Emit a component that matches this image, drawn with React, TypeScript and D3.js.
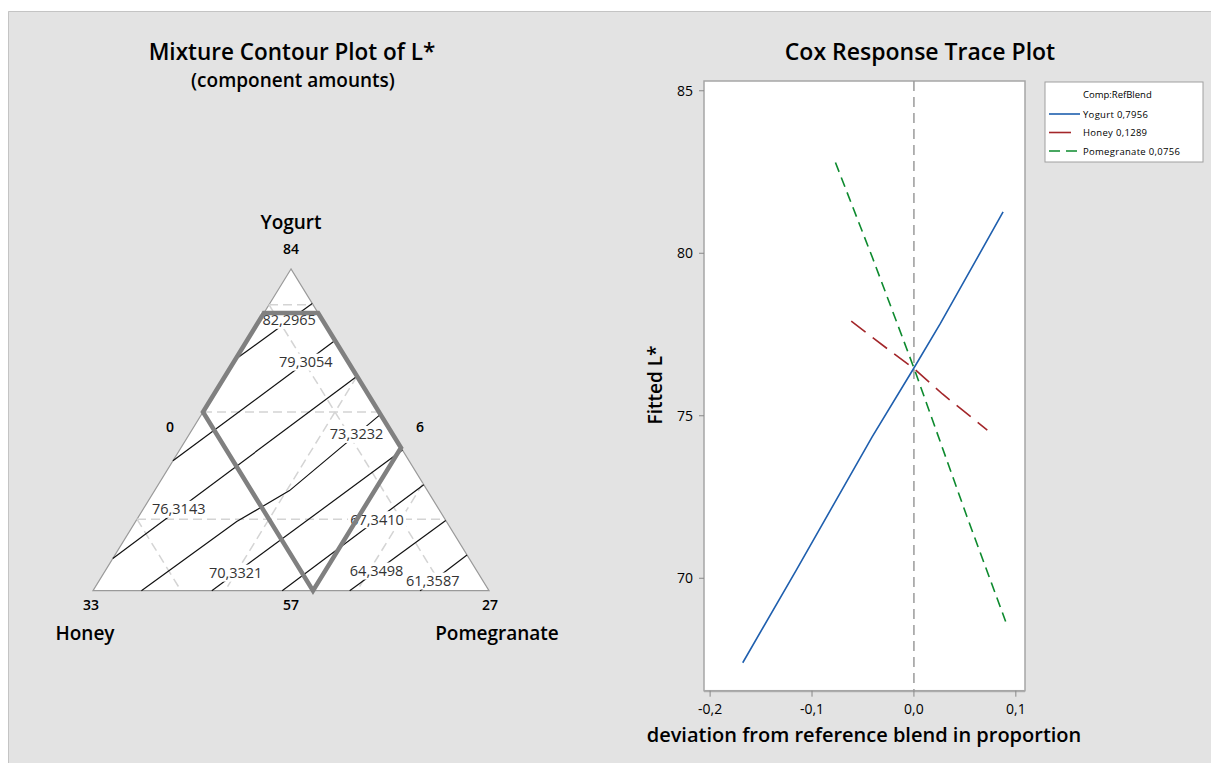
import React from 'react';
import * as d3 from 'd3';

// ---- mixture contour (component amounts) ----
const components = ['Yogurt', 'Honey', 'Pomegranate'];
const total = 90;
const lowerBounds = [57, 6, 0]; // Yogurt, Honey, Pomegranate
const vertexTicks = ['84', '33', '27'];
const boundTicks = ['57', '6', '0'];

const gridYogurt = [63, 72, 81];
const gridHoney = [9, 18, 27];
const gridPom = [9, 18];

// constraint region vertices (amounts)
const regionYogurt = [80.3, 80.3, 69, 57, 72];
const regionPom = [0, 3.7, 15, 15, 0];

const contourLevels = [82.2965, 79.3054, 76.3143, 73.3232, 70.3321, 67.341, 64.3498, 61.3587];
const contourYogurt = [
  [76.4, 81.1],
  [67.9, 78.0],
  [59.7, 75.0],
  [57, 62.8, 65.4, 71.8],
  [57, 68.8],
  [57, 65.9],
  [57, 62.9],
  [57, 60.0],
];
const contourPom = [
  [0, 2.9],
  [0, 6],
  [0, 9],
  [3.3, 6.9, 9.2, 12.2],
  [8.1, 15.2],
  [12.9, 18.1],
  [17.5, 21.1],
  [22.3, 24.0],
];
// where along each contour its label sits (0..1 of horizontal run)
const labelAt = [0.7, 0.82, 0.27, 0.9, 0.125, 0.67, 0.28, 0.27];

// ---- Cox response trace ----
const refBlend = [0.7956, 0.1289, 0.0756];
const yogurtDev = [-0.168, -0.116, -0.041, 0, 0.026, 0.0875];
const yogurtFit = [67.4, 70.22, 74.35, 76.47, 77.84, 81.27];
const honeyDev = [-0.0615, -0.021, 0, 0.028, 0.072];
const honeyFit = [77.91, 76.94, 76.45, 75.67, 74.56];
const pomDev = [-0.077, -0.041, 0, 0.052, 0.09];
const pomFit = [82.79, 79.89, 76.47, 71.9, 68.67];
const xTicks = [-0.2, -0.1, 0, 0.1];
const yTicks = [70, 75, 80, 85];

const FONT = "'Open Sans', 'Noto Sans', sans-serif";
const comma = (v: number, f: string) => d3.format(f)(v).replace('.', ',').replace('\u2212', '-');

export default function App() {
  const W = 1211, H = 763;

  // ternary geometry
  const span = total - d3.sum(lowerBounds);
  const triL = 93, triR = 489, triT = 269, triB = 590.7;
  const yogScale = d3.scaleLinear().domain([lowerBounds[0], lowerBounds[0] + span]).range([triB, triT]);
  const fracScale = d3.scaleLinear().domain([0, 1]).range([triL, triR]);
  const tern = (Y: number, P: number): [number, number] => {
    const yf = (Y - lowerBounds[0]) / span;
    const pf = (P - lowerBounds[2]) / span;
    return [fracScale(pf + yf / 2), yogScale(Y)];
  };
  const yMin = lowerBounds[0], yMax = lowerBounds[0] + span;
  const tri = [tern(yMax, 0), tern(yMin, 0), tern(yMin, span)];

  const gridLines: [number, number][][] = [];
  gridYogurt.forEach(g => gridLines.push([tern(g, 0), tern(g, total - g - lowerBounds[1])]));
  gridHoney.forEach(g => gridLines.push([tern(total - g, 0), tern(yMin, total - yMin - g)]));
  gridPom.forEach(g => gridLines.push([tern(total - lowerBounds[1] - g, g), tern(yMin, g)]));

  const lineGen = d3.line<[number, number]>();
  const contours = contourLevels.map((lv, i) => contourYogurt[i].map((y, j) => tern(y, contourPom[i][j])));
  const labelPos = contours.map((pts, i) => {
    const x0 = pts[0][0], x1 = pts[pts.length - 1][0];
    const x = x0 + (x1 - x0) * labelAt[i];
    for (let k = 0; k < pts.length - 1; k++) {
      if (x >= pts[k][0] && x <= pts[k + 1][0]) {
        const t = (x - pts[k][0]) / (pts[k + 1][0] - pts[k][0]);
        return [x, pts[k][1] + t * (pts[k + 1][1] - pts[k][1])];
      }
    }
    return pts[0];
  });
  const region = regionYogurt.map((y, i) => tern(y, regionPom[i]));

  // trace plot
  const px0 = 704, px1 = 1025, py0 = 81, py1 = 690.7;
  const xS = d3.scaleLinear().domain([-0.206, 0.109]).range([px0, px1]);
  const yS = d3.scaleLinear().domain([66.54, 85.3]).range([py1, py0]);
  const series = [
    { name: components[0], dev: yogurtDev, fit: yogurtFit, color: '#1f5fae', dash: '' },
    { name: components[1], dev: honeyDev, fit: honeyFit, color: '#a3262a', dash: '18 9' },
    { name: components[2], dev: pomDev, fit: pomFit, color: '#0d8a2e', dash: '10 6' },
  ];
  const mkPath = (s: typeof series[0]) =>
    d3.line<number>().x((d, i) => xS(s.dev[i])).y(d => yS(d))(s.fit) || '';

  return (
    <svg width={W} height={H} style={{ position: 'absolute', left: 0, top: 0 }} fontFamily={FONT}>
      <rect x={0} y={0} width={W} height={H} fill="#fff" />
      <rect x={8} y={11} width={W - 8} height={H - 11} fill="#e3e3e3" />
      <path d={`M8.5,${H}V11.5H${W}`} fill="none" stroke="#c4c4c4" />

      {/* left panel */}
      <text x={292} y={60} textAnchor="middle" fontSize={22.5} fontWeight={600}>Mixture Contour Plot of L*</text>
      <text x={293} y={87} textAnchor="middle" fontSize={19} fontWeight={600}>(component amounts)</text>

      <polygon points={tri.map(p => p.join(',')).join(' ')} fill="#fff" stroke="#9a9a9a" strokeWidth={1.2} />
      {gridLines.map((l, i) => (
        <path key={'g' + i} d={lineGen(l) || ''} stroke="#d4d4d4" strokeWidth={1.5} strokeDasharray="9 5" fill="none" />
      ))}
      {contours.map((pts, i) => (
        <path key={'c' + i} d={lineGen(pts) || ''} stroke="#111" strokeWidth={1.2} fill="none" />
      ))}
      {labelPos.map((p, i) => (
        <g key={'l' + i}>
          <rect x={p[0] - 29} y={p[1] - 8.5} width={58} height={17} fill="#fff" />
          <text x={p[0]} y={p[1] + 5} textAnchor="middle" fontSize={14.5} fill="#333">{comma(contourLevels[i], '.4f')}</text>
        </g>
      ))}
      <polygon points={region.map(p => p.join(',')).join(' ')} fill="none" stroke="#808080" strokeWidth={4.5} strokeLinejoin="miter" />

      <text x={291} y={229} textAnchor="middle" fontSize={19} fontWeight={600}>{components[0]}</text>
      <text x={291} y={254} textAnchor="middle" fontSize={14} fontWeight={600}>{vertexTicks[0]}</text>
      <text x={170} y={432} textAnchor="middle" fontSize={14} fontWeight={600}>{boundTicks[2]}</text>
      <text x={420} y={432} textAnchor="middle" fontSize={14} fontWeight={600}>{boundTicks[1]}</text>
      <text x={91} y={610} textAnchor="middle" fontSize={14} fontWeight={600}>{vertexTicks[1]}</text>
      <text x={291} y={610} textAnchor="middle" fontSize={14} fontWeight={600}>{boundTicks[0]}</text>
      <text x={490} y={610} textAnchor="middle" fontSize={14} fontWeight={600}>{vertexTicks[2]}</text>
      <text x={85} y={640} textAnchor="middle" fontSize={19} fontWeight={600}>{components[1]}</text>
      <text x={497} y={640} textAnchor="middle" fontSize={19} fontWeight={600}>{components[2]}</text>

      {/* right panel */}
      <text x={920} y={60} textAnchor="middle" fontSize={23} fontWeight={600}>Cox Response Trace Plot</text>
      <rect x={px0} y={py0} width={px1 - px0} height={py1 - py0} fill="#fff" stroke="#a6a6a6" strokeWidth={1.5} />
      <line x1={xS(0)} x2={xS(0)} y1={py0} y2={py1} stroke="#9a9a9a" strokeWidth={1.5} strokeDasharray="10 6" />
      {series.map(s => (
        <path key={s.name} d={mkPath(s)} stroke={s.color} strokeWidth={1.6} strokeDasharray={s.dash || undefined} fill="none" />
      ))}

      {yTicks.map(t => (
        <g key={'y' + t}>
          <line x1={px0 - 5} x2={px0} y1={yS(t)} y2={yS(t)} stroke="#888" />
          <text x={693} y={yS(t) + 5} textAnchor="end" fontSize={14}>{t}</text>
        </g>
      ))}
      <line x1={px0} x2={px1} y1={py1 + 1} y2={py1 + 1} stroke="#a6a6a6" />
      {xTicks.map(t => (
        <g key={'x' + t}>
          <line x1={xS(t)} x2={xS(t)} y1={py1} y2={py1 + 6} stroke="#888" />
          <text x={xS(t)} y={714} textAnchor="middle" fontSize={14}>{comma(t, '.1f')}</text>
        </g>
      ))}
      <text transform="translate(662,385) rotate(-90)" textAnchor="middle" fontSize={19} fontWeight={600}>Fitted L*</text>
      <text x={864} y={742} textAnchor="middle" fontSize={20} fontWeight={600}>deviation from reference blend in proportion</text>

      {/* legend */}
      <rect x={1045} y={82} width={158} height={80} fill="#fff" stroke="#a0a0a0" />
      <text x={1083} y={98} fontSize={9.5}>Comp:RefBlend</text>
      {series.map((s, i) => (
        <g key={'lg' + i}>
          <line x1={1049} x2={1080} y1={114 + i * 18.5} y2={114 + i * 18.5} stroke={s.color} strokeWidth={1.6}
            strokeDasharray={i === 1 ? '22 20' : i === 2 ? '11 6' : undefined} />
          <text x={1083} y={117.5 + i * 18.5} fontSize={9.5} letterSpacing={0.3}>{s.name} {comma(refBlend[i], '.4f')}</text>
        </g>
      ))}
    </svg>
  );
}
